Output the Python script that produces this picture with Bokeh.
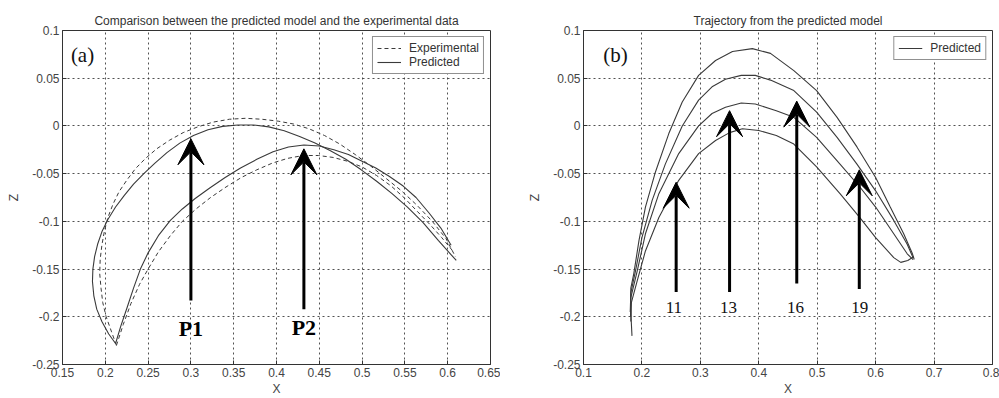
from bokeh.plotting import figure
from bokeh.layouts import row
from bokeh.models import Range1d, FixedTicker, Arrow, VeeHead, ColumnDataSource
from bokeh.core.properties import value
from bokeh.embed import file_html
from bokeh.resources import INLINE

# ---------------- data: panel (a) ----------------
p1_pred_x = [0.212, 0.204, 0.196, 0.190, 0.1866, 0.185, 0.1855, 0.1875, 0.191, 0.196, 0.203, 0.212, 0.222,
             0.233, 0.245, 0.258, 0.272, 0.287, 0.303, 0.320, 0.337, 0.355, 0.373, 0.391, 0.409, 0.427,
             0.445, 0.463, 0.481, 0.499, 0.517, 0.535, 0.553, 0.571, 0.589, 0.610]
p1_pred_z = [-0.228, -0.218, -0.205, -0.192, -0.178, -0.163, -0.150, -0.137, -0.124, -0.111, -0.098, -0.085,
             -0.073, -0.061, -0.050, -0.039, -0.028, -0.018, -0.010, -0.004, -0.0005, 0.001, 0.001, -0.001,
             -0.005, -0.011, -0.018, -0.026, -0.035, -0.046, -0.058, -0.071, -0.085, -0.101, -0.120, -0.141]

p2_pred_x = [0.212, 0.218, 0.2256, 0.233, 0.241, 0.250, 0.262, 0.276, 0.290, 0.305, 0.322, 0.340, 0.358,
             0.377, 0.396, 0.414, 0.432, 0.450, 0.467, 0.484, 0.500, 0.516, 0.532, 0.548, 0.563, 0.578,
             0.592, 0.604]
p2_pred_z = [-0.228, -0.21, -0.19, -0.17, -0.15, -0.133, -0.115, -0.099, -0.087, -0.076, -0.065, -0.054,
             -0.044, -0.035, -0.027, -0.022, -0.020, -0.021, -0.025, -0.030, -0.037, -0.044, -0.053, -0.063,
             -0.075, -0.091, -0.107, -0.125]

p1_exp_x = [0.213, 0.207, 0.201, 0.197, 0.195, 0.1935, 0.194, 0.196, 0.199, 0.203, 0.209, 0.216, 0.225,
            0.235, 0.247, 0.260, 0.275, 0.291, 0.308, 0.326, 0.345, 0.364, 0.383, 0.402, 0.420, 0.438,
            0.456, 0.474, 0.492, 0.510, 0.528, 0.546, 0.564, 0.582, 0.598, 0.609]
p1_exp_z = [-0.23, -0.215, -0.2, -0.185, -0.17, -0.155, -0.14, -0.125, -0.11, -0.096, -0.082, -0.069,
            -0.057, -0.045, -0.034, -0.024, -0.015, -0.007, -0.001, 0.004, 0.007, 0.008, 0.007, 0.005,
            0.002, -0.003, -0.010, -0.019, -0.030, -0.042, -0.055, -0.068, -0.083, -0.100, -0.118, -0.137]

p2_exp_x = [0.213, 0.221, 0.230, 0.240, 0.250, 0.262, 0.276, 0.290, 0.306, 0.323, 0.341, 0.359, 0.377,
            0.395, 0.413, 0.431, 0.449, 0.466, 0.483, 0.500, 0.517, 0.534, 0.550, 0.565, 0.580, 0.593, 0.605]
p2_exp_z = [-0.23, -0.208, -0.186, -0.166, -0.15, -0.132, -0.115, -0.100, -0.087, -0.075, -0.064, -0.054,
            -0.046, -0.039, -0.034, -0.031, -0.031, -0.033, -0.037, -0.043, -0.052, -0.063, -0.076, -0.090,
            -0.104, -0.117, -0.130]

a_arrow_x = [0.300, 0.432]
a_arrow_z0 = [-0.183, -0.192]
a_arrow_z1 = [-0.0135, -0.024]
a_label_x = [0.300, 0.432]
a_label_z = [-0.2125, -0.2115]
a_label_t = ["P1", "P2"]

a_xticks = [0.15, 0.2, 0.25, 0.3, 0.35, 0.4, 0.45, 0.5, 0.55, 0.6, 0.65]
a_xlabels = ["0.15", "0.2", "0.25", "0.3", "0.35", "0.4", "0.45", "0.5", "0.55", "0.6", "0.65"]
yticks = [-0.25, -0.2, -0.15, -0.1, -0.05, 0.0, 0.05, 0.1]
ylabels = ["-0.25", "-0.2", "-0.15", "-0.1", "-0.05", "0", "0.05", "0.1"]

# ---------------- data: panel (b) ----------------
b1_x = [0.183, 0.1805, 0.181, 0.186, 0.195, 0.206, 0.223, 0.246, 0.269, 0.297, 0.326, 0.355, 0.389,
        0.420, 0.460, 0.499, 0.534, 0.568, 0.600, 0.625, 0.648, 0.663, 0.666]
b1_z = [-0.220, -0.19, -0.17, -0.155, -0.12, -0.085, -0.0485, -0.008, 0.025, 0.053, 0.0686, 0.078, 0.081,
        0.076, 0.058, 0.037, 0.009, -0.022, -0.054, -0.085, -0.113, -0.134, -0.140]
b2_x = [0.180, 0.181, 0.189, 0.200, 0.2175, 0.240, 0.269, 0.297, 0.320, 0.343, 0.370, 0.394, 0.420,
        0.460, 0.499, 0.534, 0.568, 0.600, 0.631, 0.654, 0.664]
b2_z = [-0.195, -0.175, -0.152, -0.117, -0.078, -0.040, 0.0, 0.027, 0.041, 0.049, 0.053, 0.053, 0.048,
        0.037, 0.0144, -0.012, -0.040, -0.068, -0.099, -0.124, -0.138]
b3_x = [0.1805, 0.181, 0.192, 0.206, 0.229, 0.263, 0.297, 0.320, 0.343, 0.370, 0.394, 0.430, 0.460,
        0.499, 0.539, 0.573, 0.600, 0.631, 0.654, 0.664]
b3_z = [-0.200, -0.180, -0.152, -0.113, -0.071, -0.029, 0.0, 0.013, 0.0196, 0.024, 0.023, 0.016, 0.009,
        -0.012, -0.040, -0.064, -0.085, -0.113, -0.134, -0.140]
b4_x = [0.181, 0.182, 0.192, 0.206, 0.229, 0.263, 0.297, 0.326, 0.350, 0.372, 0.400, 0.430, 0.460,
        0.499, 0.539, 0.573, 0.600, 0.631, 0.643, 0.655, 0.665]
b4_z = [-0.205, -0.185, -0.162, -0.131, -0.096, -0.057, -0.029, -0.0153, -0.007, -0.003, -0.0048, -0.010,
        -0.019, -0.043, -0.071, -0.096, -0.117, -0.138, -0.143, -0.141, -0.137]

b_arrow_x = [0.2586, 0.350, 0.465, 0.572]
b_arrow_z0 = [-0.174, -0.174, -0.165, -0.171]
b_arrow_z1 = [-0.059, 0.016, 0.026, -0.046]
b_label_x = [0.2546, 0.348, 0.463, 0.573]
b_label_z = [-0.19, -0.19, -0.19, -0.19]
b_label_t = ["11", "13", "16", "19"]

b_xticks = [0.1, 0.2, 0.3, 0.4, 0.5, 0.6, 0.7, 0.8]
b_xlabels = ["0.1", "0.2", "0.3", "0.4", "0.5", "0.6", "0.7", "0.8"]

titles = ["Comparison between the predicted model and the experimental data",
          "Trajectory from the predicted model"]
panel_tags = ["(a)", "(b)"]

SANS = "Liberation Sans"
SERIF = "Liberation Serif"
LINE_C = "#3a3a3a"


def style(p, xticks, xlabels):
    p.title.text_font = SANS
    p.title.text_font_size = "12px"
    p.title.text_font_style = "normal"
    p.title.text_color = "#333333"
    p.title.align = "center"
    p.title.standoff = 5
    p.xaxis.ticker = FixedTicker(ticks=xticks)
    p.xaxis.major_label_overrides = dict(zip(xticks, xlabels))
    p.yaxis.ticker = FixedTicker(ticks=yticks)
    p.yaxis.major_label_overrides = dict(zip(yticks, ylabels))
    for ax in (p.xaxis, p.yaxis):
        ax.major_label_text_font = SANS
        ax.major_label_text_font_size = "12px"
        ax.major_label_text_color = "#444444"
        ax.axis_label_text_font = SANS
        ax.axis_label_text_font_size = "12px"
        ax.axis_label_text_font_style = "normal"
        ax.axis_label_text_color = "#444444"
        ax.axis_line_color = "#333333"
        ax.major_tick_in = 4
        ax.major_tick_out = 0
        ax.minor_tick_line_color = None
        ax.major_tick_line_color = "#333333"
        ax.major_label_standoff = 3
        ax.axis_label_standoff = 2
    p.xaxis.axis_label = "X"
    p.yaxis.axis_label = "Z"
    p.yaxis.axis_label_standoff = 8
    p.grid.grid_line_color = "#333333"
    p.grid.grid_line_dash = "2 3"
    p.grid.grid_line_width = 1
    p.grid.grid_line_alpha = 0.85
    p.outline_line_color = "#333333"
    p.outline_line_width = 1
    p.outline_line_alpha = 1
    p.background_fill_color = "white"
    p.border_fill_color = "white"


def add_arrows(p, xs, z0, z1):
    src = ColumnDataSource(dict(x=xs, y0=z0, y1=z1))
    p.add_layout(Arrow(end=VeeHead(size=26, fill_color="black", line_color="black", line_width=1),
                       x_start="x", y_start="y0", x_end="x", y_end="y1", source=src,
                       line_width=3, line_color="black"))


def style_legend(p, loc):
    lg = p.legend[0]
    lg.location = loc
    lg.border_line_color = "#222222"
    lg.border_line_width = 1
    lg.background_fill_alpha = 1
    lg.label_text_font = SANS
    lg.label_text_font_size = "12px"
    lg.label_text_color = "#333333"
    lg.glyph_width = 24
    lg.glyph_height = 14
    lg.label_height = 14
    lg.label_standoff = 8
    lg.padding = 4
    lg.spacing = 0
    lg.margin = 6


# ---------------- panel (a) ----------------
pa = figure(width=500, height=398, output_backend="svg", toolbar_location=None,
            x_range=Range1d(0.15, 0.65), y_range=Range1d(-0.25, 0.1), title=titles[0],
            min_border_left=62, min_border_right=10, min_border_top=30, min_border_bottom=34)
style(pa, a_xticks, a_xlabels)
pa.line(p1_exp_x, p1_exp_z, line_color=LINE_C, line_width=1, line_dash="4 3", legend_label="Experimental")
pa.line(p1_pred_x, p1_pred_z, line_color=LINE_C, line_width=1.1, legend_label="Predicted")
pa.line(p2_exp_x, p2_exp_z, line_color=LINE_C, line_width=1, line_dash="4 3")
pa.line(p2_pred_x, p2_pred_z, line_color=LINE_C, line_width=1.1)
add_arrows(pa, a_arrow_x, a_arrow_z0, a_arrow_z1)
pa.text(x=a_label_x, y=a_label_z, text=a_label_t, text_font=value(SERIF), text_font_size="22px",
        text_font_style="bold", text_align="center", text_baseline="middle", text_color="black")
pa.text(x=[0.1734], y=[0.074], text=[panel_tags[0]], text_font=value(SERIF), text_font_size="21px",
        text_align="center", text_baseline="middle", text_color="#111111")
style_legend(pa, "top_right")

# ---------------- panel (b) ----------------
pb = figure(width=499, height=398, output_backend="svg", toolbar_location=None,
            x_range=Range1d(0.1, 0.8), y_range=Range1d(-0.25, 0.1), title=titles[1],
            min_border_left=83, min_border_right=7, min_border_top=30, min_border_bottom=34)
style(pb, b_xticks, b_xlabels)
pb.line(b1_x, b1_z, line_color=LINE_C, line_width=1.1, legend_label="Predicted")
pb.line(b2_x, b2_z, line_color=LINE_C, line_width=1.1)
pb.line(b3_x, b3_z, line_color=LINE_C, line_width=1.1)
pb.line(b4_x, b4_z, line_color=LINE_C, line_width=1.1)
add_arrows(pb, b_arrow_x, b_arrow_z0, b_arrow_z1)
pb.text(x=b_label_x, y=b_label_z, text=b_label_t, text_font=value(SERIF), text_font_size="17px",
        text_align="center", text_baseline="middle", text_color="#111111")
pb.text(x=[0.1548], y=[0.074], text=[panel_tags[1]], text_font=value(SERIF), text_font_size="21px",
        text_align="center", text_baseline="middle", text_color="#111111")
style_legend(pb, "top_right")

layout = row(pa, pb)
open("out.html", "w").write(file_html(layout, INLINE))
